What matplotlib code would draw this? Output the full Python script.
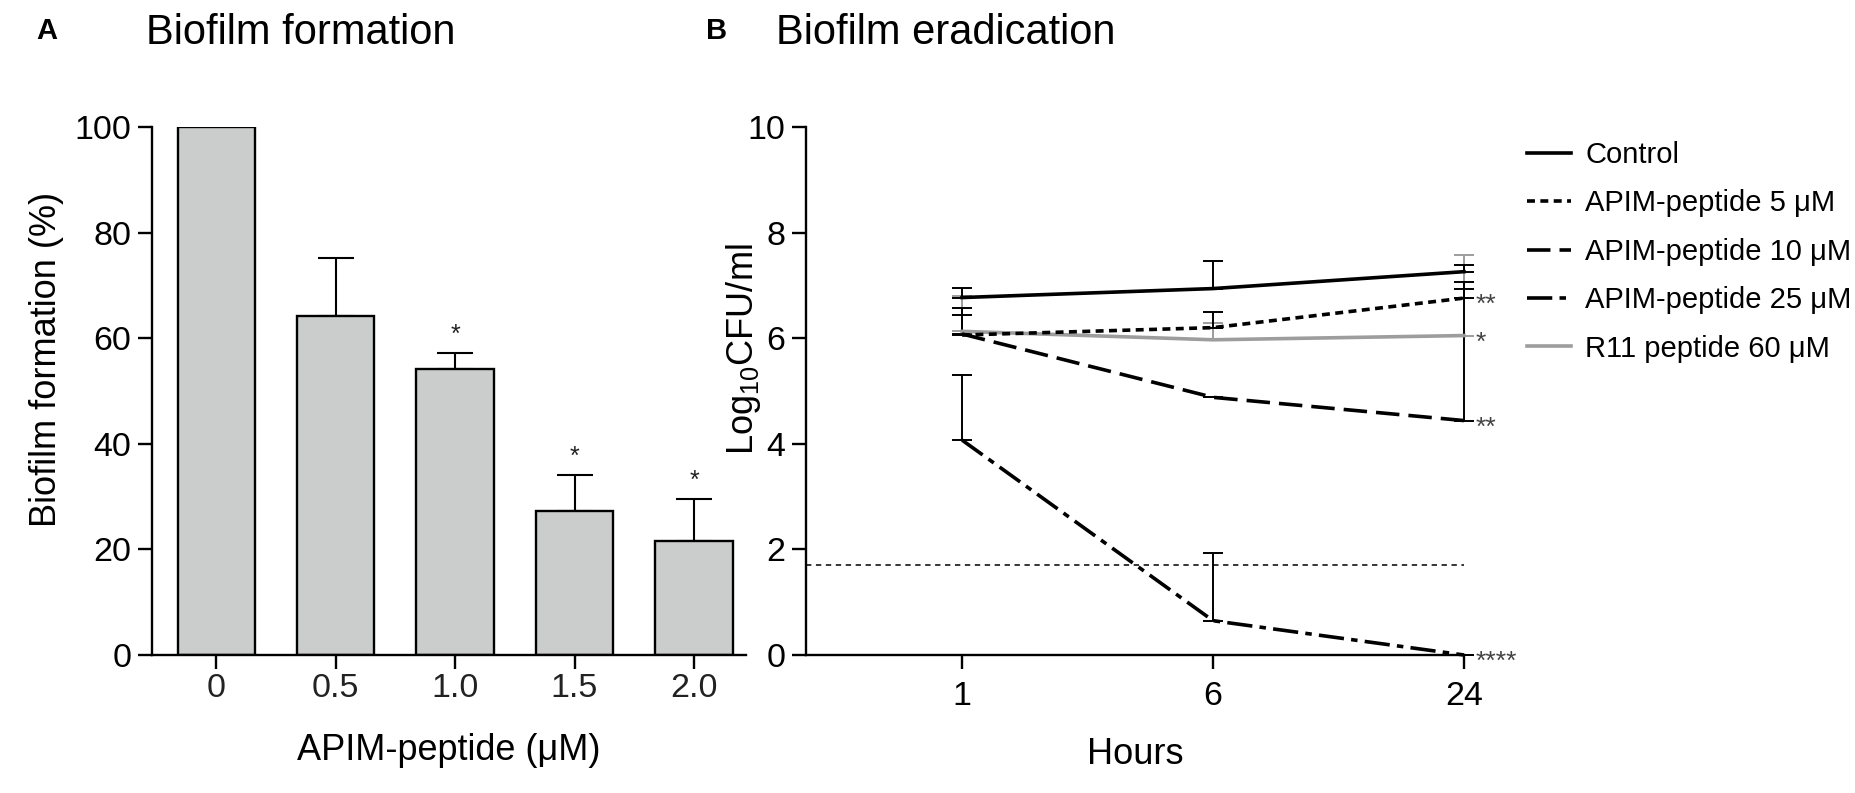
import matplotlib
matplotlib.use("Agg")
import matplotlib.pyplot as plt
import numpy as np

plt.rcParams['font.family'] = ['Liberation Sans', 'DejaVu Sans']
plt.rcParams['mathtext.fontset'] = 'custom'
plt.rcParams['mathtext.rm'] = 'Liberation Sans'

# panel A data
doses = ["0", "0.5", "1.0", "1.5", "2.0"]
formation = [100, 64.2, 54.2, 27.2, 21.5]
formation_err = [0, 11.0, 3.0, 6.8, 8.0]
formation_sig = ["", "", "*", "*", "*"]

# panel B data
hours = ["1", "6", "24"]
control = [6.77, 6.94, 7.26]
control_err = [0.18, 0.52, 0.12]
apim5 = [6.06, 6.20, 6.76]
apim5_err = [0.52, 0.29, 0.17]
apim10 = [6.08, 4.88, 4.44]
apim10_err = [0.36, 0.0, 2.63]
apim25 = [4.07, 0.65, 0.0]
apim25_err = [1.23, 1.29, 0.0]
r11 = [6.13, 5.97, 6.05]
r11_err = [0.67, 0.32, 1.52]
detection_limit = 1.7
sig_24h = [(6.76, "**"), (6.05, "*"), (4.44, "**"), (0.0, "****")]

W, H = 1855, 793
fig = plt.figure(figsize=(W / 100, H / 100), dpi=100)

def box(l, r, t, b):
    return [l / W, 1 - b / H, (r - l) / W, (b - t) / H]

tick_fs = 24.5
lab_fs = 26

# ---- A ----
axA = fig.add_axes(box(152, 746, 127, 655))
xa = np.arange(len(doses))
axA.bar(xa, formation, width=0.645, color="#cbcccc", edgecolor="black", linewidth=1.7, zorder=2)
axA.errorbar(xa, formation, yerr=[np.zeros(len(xa)), formation_err], fmt="none",
             ecolor="black", elinewidth=1.5, capsize=13, capthick=1.5, zorder=1)
for i in range(len(xa)):
    if formation_sig[i]:
        axA.text(xa[i], formation[i] + formation_err[i] + 3.5, formation_sig[i],
                 ha="center", va="center", fontsize=18, color="#222222")
axA.set_xlim(-0.536, 4.435)
axA.set_ylim(0, 100)
axA.set_yticks([0, 20, 40, 60, 80, 100])
axA.set_xticks(xa)
axA.set_xticklabels(doses)
axA.set_ylabel("Biofilm formation (%)", fontsize=lab_fs)
axA.yaxis.set_label_coords(-0.148, 0.56)
axA.set_xlabel("APIM-peptide (\u03bcM)", fontsize=lab_fs, labelpad=21)
axA.spines["top"].set_visible(False)
axA.spines["right"].set_visible(False)
for s in ["left", "bottom"]:
    axA.spines[s].set_linewidth(1.7)
axA.tick_params(axis="y", labelsize=tick_fs, width=1.7, length=10, pad=5)
axA.tick_params(axis="x", labelsize=tick_fs, width=1.7, length=10, pad=3)
for lab in axA.get_xticklabels():
    lab.set_color("#222222")

fig.text(36 / W, 1 - 31 / H, "A", fontsize=21, fontweight="bold", va="center")
fig.text(146 / W, 1 - 33 / H, "Biofilm formation", fontsize=30, va="center")

# ---- B ----
axB = fig.add_axes(box(806, 1464, 127, 655))
xb = np.arange(1, len(hours) + 1)
lw = 2.6
axB.axhline(detection_limit, color="black", linewidth=1.1, linestyle=(0, (3.5, 3)), zorder=1)

series = [
    ("R11 peptide 60 \u03bcM", r11, r11_err, "#9d9d9d", "-"),
    ("Control", control, control_err, "black", "-"),
    ("APIM-peptide 5 \u03bcM", apim5, apim5_err, "black", (0, (2.2, 1.5))),
    ("APIM-peptide 10 \u03bcM", apim10, apim10_err, "black", (0, (6.5, 2.5))),
    ("APIM-peptide 25 \u03bcM", apim25, apim25_err, "black", (0, (7, 2, 1.8, 2))),
]
handles = {}
for name, vals, err, col, ls in series:
    axB.errorbar(xb, vals, yerr=[np.zeros(len(xb)), err], fmt="none", ecolor=col,
                 elinewidth=1.4, capsize=7.5, capthick=1.4, clip_on=False, zorder=2)
    ln, = axB.plot(xb, vals, color=col, linewidth=lw, linestyle=ls, clip_on=False, zorder=3)
    handles[name] = ln

for yv, s in sig_24h:
    axB.text(3.045, yv - 0.13, s, ha="left", va="center", fontsize=19, color="#444444")

axB.set_xlim(0.378, 3.0)
axB.set_ylim(0, 10)
axB.set_yticks([0, 2, 4, 6, 8, 10])
axB.set_xticks(xb)
axB.set_xticklabels(hours)
axB.set_ylabel("Log$_{10}$CFU/ml", fontsize=26)
axB.yaxis.set_label_coords(-0.066, 0.58)
axB.set_xlabel("Hours", fontsize=lab_fs, labelpad=18)
axB.spines["top"].set_visible(False)
axB.spines["right"].set_visible(False)
for s in ["left", "bottom"]:
    axB.spines[s].set_linewidth(1.7)
axB.tick_params(axis="y", labelsize=tick_fs, width=1.7, length=10, pad=5)
axB.tick_params(axis="x", labelsize=tick_fs, width=1.7, length=10, pad=9)

fig.text(706 / W, 1 - 31 / H, "B", fontsize=21, fontweight="bold", va="center")
fig.text(776 / W, 1 - 33 / H, "Biofilm eradication", fontsize=30, va="center")

order = ["Control", "APIM-peptide 5 \u03bcM", "APIM-peptide 10 \u03bcM",
         "APIM-peptide 25 \u03bcM", "R11 peptide 60 \u03bcM"]
fig.legend([handles[k] for k in order], order, loc="upper left",
           bbox_to_anchor=(1527 / W, 1 - 141 / H), frameon=False, fontsize=21,
           handlelength=1.5, handletextpad=0.5, labelspacing=0.7,
           borderaxespad=0, borderpad=0)

fig.savefig("out.png", dpi=100)
